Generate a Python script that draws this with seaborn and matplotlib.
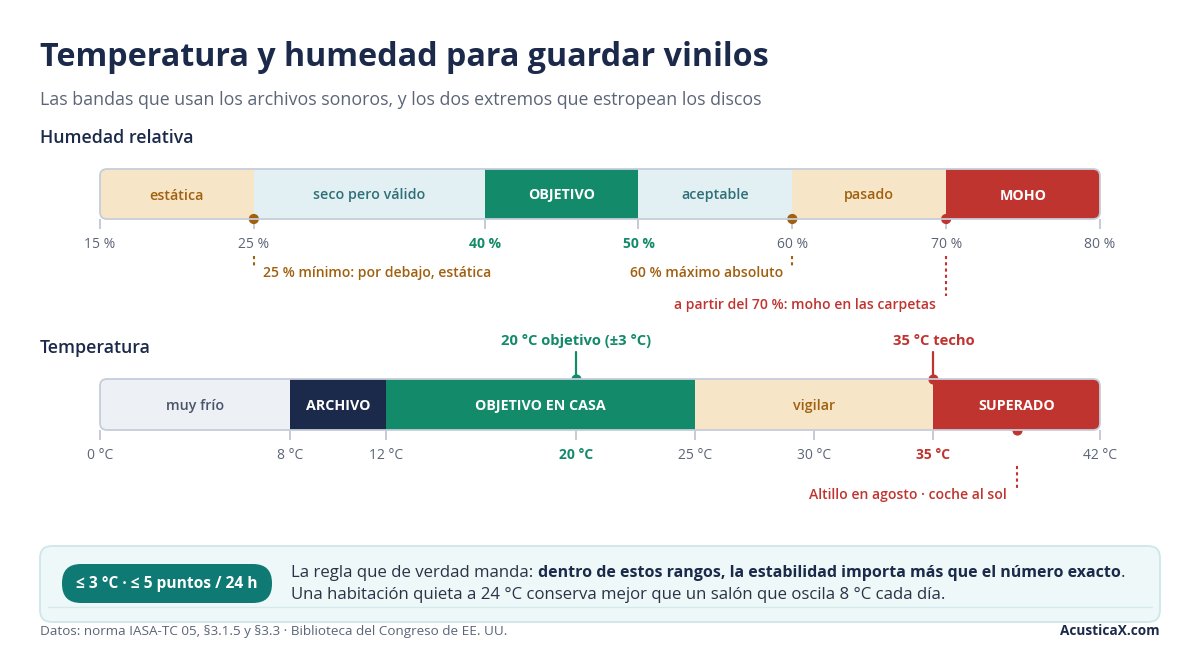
import matplotlib
matplotlib.use("Agg")
import matplotlib.pyplot as plt
import seaborn as sns
from matplotlib.patches import FancyBboxPatch
from matplotlib.transforms import IdentityTransform

# ---------------- data ----------------
hum_edges = [15, 25, 40, 50, 60, 70, 80]
hum_labels = ["estática", "seco pero válido", "OBJETIVO", "aceptable", "pasado", "MOHO"]
hum_ticks = [15, 25, 40, 50, 60, 70, 80]
hum_tick_labels = ["15 %", "25 %", "40 %", "50 %", "60 %", "70 %", "80 %"]
hum_marks = [25, 60, 70]
hum_notes = ["25 % mínimo: por debajo, estática", "60 % máximo absoluto",
             "a partir del 70 %: moho en las carpetas"]

temp_edges = [0, 8, 12, 25, 35, 42]
temp_labels = ["muy frío", "ARCHIVO", "OBJETIVO EN CASA", "vigilar", "SUPERADO"]
temp_ticks = [0, 8, 12, 20, 25, 30, 35, 42]
temp_tick_labels = ["0 °C", "8 °C", "12 °C", "20 °C", "25 °C", "30 °C", "35 °C", "42 °C"]
temp_top_marks = [20, 35]
temp_top_notes = ["20 °C objetivo (±3 °C)", "35 °C techo"]
temp_bottom_mark = 38.5
temp_bottom_note = "Altillo en agosto · coche al sol"

title = "Temperatura y humedad para guardar vinilos"
subtitle = "Las bandas que usan los archivos sonoros, y los dos extremos que estropean los discos"
pill_text = "≤ 3 °C · ≤ 5 puntos / 24 h"
rule_a = "La regla que de verdad manda: "
rule_b = "dentro de estos rangos, la estabilidad importa más que el número exacto"
rule_c = "."
rule_2 = "Una habitación quieta a 24 °C conserva mejor que un salón que oscila 8 °C cada día."
source = "Datos: norma IASA-TC 05, §3.1.5 y §3.3 · Biblioteca del Congreso de EE. UU."
brand = "AcusticaX.com"

# ---------------- style ----------------
sns.set_theme(style="white")
FAM = ["Open Sans", "DejaVu Sans"]
plt.rcParams["font.family"] = FAM

NAVY = "#1b2a4a"
GREY = "#5b6577"
GREEN = "#138a6a"
RED = "#c0342f"
BROWN = "#a0600f"
BEIGE = "#f6e6c7"
LBLUE = "#e2f0f3"
TEAL_T = "#2f6f78"
BORDER = "#c6cdda"

hum_fill = [BEIGE, LBLUE, GREEN, LBLUE, BEIGE, RED]
hum_text = [BROWN, TEAL_T, "white", TEAL_T, BROWN, "white"]
hum_bold = [False, False, True, False, False, True]
temp_fill = ["#edf1f6", NAVY, GREEN, BEIGE, RED]
temp_text = ["#4a5468", "white", "white", BROWN, "white"]
temp_bold = [False, True, True, False, True]

W, H = 1200, 660
fig = plt.figure(figsize=(12, 6.6), dpi=100)
fig.patch.set_facecolor("white")


def fy(py):
    return 1 - py / H


def rrect(x0, y0, x1, y1, r, **kw):
    p = FancyBboxPatch((x0, H - y1), x1 - x0, y1 - y0,
                       boxstyle=f"round,pad=0,rounding_size={r}",
                       transform=IdentityTransform(), **kw)
    fig.add_artist(p)
    return p


def band(ax_rect, edges, labels, fills, tcols, bolds, ticks, tlabels, key):
    ax = fig.add_axes(ax_rect)
    ax.set_xlim(edges[0], edges[-1])
    ax.set_ylim(0, 1)
    starts = edges[:-1]
    widths = [b - a for a, b in zip(edges[:-1], edges[1:])]
    bars = ax.barh(0.5, widths, left=starts, height=1, color=fills,
                   edgecolor="none", zorder=1)
    for s, w, lab, tc, b in zip(starts, widths, labels, tcols, bolds):
        ax.text(s + w / 2, 0.47, lab, ha="center", va="center", color=tc,
                fontsize=10.3, fontweight="bold" if b else "semibold", zorder=3)
    for sp in ax.spines.values():
        sp.set_visible(False)
    ax.set_yticks([])
    ax.set_xticks(ticks)
    ax.set_xticklabels(tlabels)
    ax.tick_params(axis="x", bottom=True, length=7, width=1.1, color="#b5bdca",
                   pad=6, labelsize=10, labelcolor=GREY)
    for t, lbl in zip(ticks, ax.get_xticklabels()):
        if t in key:
            lbl.set_color(key[t])
            lbl.set_fontweight("bold")
    # rounded outline in pixels
    x0, y0 = ax.transData.transform((edges[0], 0))
    x1, y1 = ax.transData.transform((edges[-1], 1))
    outline = FancyBboxPatch((x0, y0), x1 - x0, y1 - y0,
                             boxstyle="round,pad=0,rounding_size=7",
                             transform=IdentityTransform(), facecolor="none",
                             edgecolor=BORDER, lw=1.3, zorder=4)
    fig.add_artist(outline)
    for b in bars:
        b.set_clip_path(outline)
    return ax


# ---------------- header ----------------
fig.text(40 / W, fy(58), title, fontsize=23.2, fontweight="bold", color=NAVY, va="center")
fig.text(40 / W, fy(100), subtitle, fontsize=12.8, color=GREY, va="center")
fig.text(40 / W, fy(138), "Humedad relativa", fontsize=12.8, fontweight="semibold",
         color=NAVY, va="center")
fig.text(40 / W, fy(348), "Temperatura", fontsize=12.8, fontweight="semibold",
         color=NAVY, va="center")

# ---------------- humidity ----------------
HB, HT = 219, 169
axh = band([100 / W, fy(HB), 1000 / W, (HB - HT) / H], hum_edges, hum_labels,
           hum_fill, hum_text, hum_bold, hum_ticks, hum_tick_labels,
           {40: GREEN, 50: GREEN})


def hy(py):
    return (HB - py) / (HB - HT)


mark_cols = [BROWN, BROWN, RED]
axh.scatter(hum_marks, [0] * 3, s=40, color=mark_cols, zorder=6, clip_on=False)
line_ends = [266, 266, 296]
for m, c, e in zip(hum_marks, mark_cols, line_ends):
    axh.plot([m, m], [hy(256), hy(e)], color=c, lw=1.5, ls=(0, (1.5, 1.5)),
             clip_on=False)
axh.text(hum_marks[0] + 0.6, hy(273), hum_notes[0], ha="left", va="center",
         color=BROWN, fontsize=10.1, fontweight="semibold", clip_on=False)
axh.text(hum_marks[1] - 0.6, hy(273), hum_notes[1], ha="right", va="center",
         color=BROWN, fontsize=10.1, fontweight="semibold", clip_on=False)
axh.text(hum_marks[2] - 0.65, hy(305), hum_notes[2], ha="right", va="center",
         color=RED, fontsize=10.1, fontweight="semibold", clip_on=False)

# ---------------- temperature ----------------
TB, TT = 430, 379
axt = band([100 / W, fy(TB), 1000 / W, (TB - TT) / H], temp_edges, temp_labels,
           temp_fill, temp_text, temp_bold, temp_ticks, temp_tick_labels,
           {20: GREEN, 35: RED})


def ty(py):
    return (TB - py) / (TB - TT)


top_cols = [GREEN, RED]
for m, c, n in zip(temp_top_marks, top_cols, temp_top_notes):
    axt.plot([m, m], [ty(352), 1], color=c, lw=1.6, clip_on=False, zorder=6)
    axt.scatter([m], [1], s=40, color=c, zorder=7, clip_on=False)
    axt.text(m, ty(341), n, ha="center", va="center", color=c, fontsize=10.6,
             fontweight="bold", clip_on=False)
axt.scatter([temp_bottom_mark], [0], s=40, color=RED, zorder=7, clip_on=False)
axt.plot([temp_bottom_mark] * 2, [ty(466), ty(488)], color=RED, lw=1.5,
         ls=(0, (1.5, 1.5)), clip_on=False)
axt.text(temp_bottom_mark - 0.4, ty(495), temp_bottom_note, ha="right", va="center",
         color=RED, fontsize=10.1, fontweight="semibold", clip_on=False)

# ---------------- rule box ----------------
rrect(40, 546, 1160, 622, 12, facecolor="#eef8f8", edgecolor="#cfe6ea", lw=1.3)
fig.add_artist(plt.Line2D([48 / W, 1152 / W], [fy(607), fy(607)], color="#d6e9ed", lw=1))
rrect(62, 564, 272, 603, 19, facecolor="#0f7a73", edgecolor="none")
fig.text(167 / W, fy(583.5), pill_text, ha="center", va="center", color="white",
         fontsize=11.2, fontweight="bold")

renderer = fig.canvas.get_renderer()
t1 = fig.text(291 / W, fy(573), rule_a, fontsize=12.1, color="#2a3346", va="center")
bb = t1.get_window_extent(renderer)
t2 = fig.text(bb.x1 / W, fy(573), rule_b, fontsize=11.5, color=NAVY,
              fontweight="bold", va="center")
bb2 = t2.get_window_extent(renderer)
fig.text(bb2.x1 / W, fy(573), rule_c, fontsize=12.1, color="#2a3346", va="center")
fig.text(291 / W, fy(595), rule_2, fontsize=12.1, color="#2a3346", va="center")

# ---------------- footer ----------------
fig.text(40 / W, fy(631), source, fontsize=9.7, color=GREY, va="center")
fig.text(1160 / W, fy(631), brand, fontsize=9.8, color=NAVY, fontweight="bold",
         ha="right", va="center")

fig.savefig("out.png", dpi=100, facecolor="white")
